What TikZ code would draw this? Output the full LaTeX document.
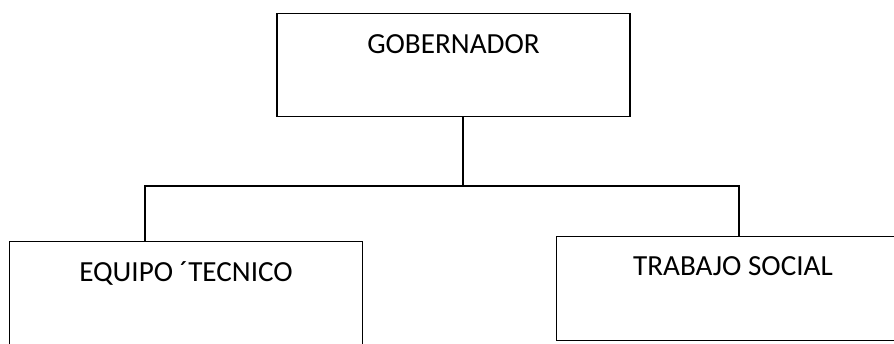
\documentclass[tikz,border=0pt]{standalone}
\usepackage{fontspec}
\setmainfont{Carlito}
\usetikzlibrary{positioning}

\begin{document}
\begin{tikzpicture}[x=0.02cm,y=-0.02cm,
  caja/.style={draw,line width=0.8pt,minimum width=7.06cm,minimum height=2.07cm,inner sep=0pt},
  rotulo/.style={inner sep=0pt,font=\fontsize{16.6}{20}\selectfont},
  linea/.style={line width=1pt}]
  \useasboundingbox (0,0) rectangle (894,343);
  \clip (0,0) rectangle (894,343);
  \node[caja] (gob) at (453.5,65) {};
  \node[caja] (equipo) at (186,293) {};
  \node[caja] (trabajo) at (733,288.5) {};
  \node[rotulo] (gobtxt) [below=0.43cm of gob.north] {GOBERNADOR};
  \node[rotulo] (equipotxt) [below=0.41cm of equipo.north] {EQUIPO ´TECNICO};
  \node[rotulo] (trabajotxt) [below=0.41cm of trabajo.north] {TRABAJO SOCIAL};
  \coordinate (union) at (463,186);
  \coordinate (izq) at (145,186);
  \coordinate (der) at (739,186);
  \draw[linea] (gob.south -| union) -- (union);
  \draw[linea] (equipo.north -| izq) -- (izq) -- (der) -- (trabajo.north -| der);
\end{tikzpicture}
\end{document}
